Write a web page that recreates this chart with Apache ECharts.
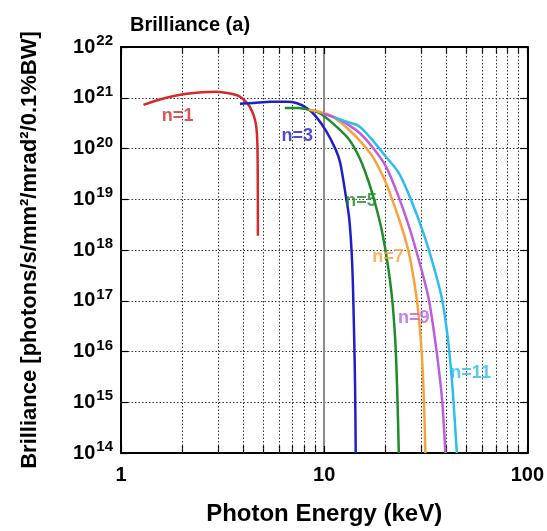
<!DOCTYPE html>
<html>
<head>
<meta charset="utf-8">
<script src="https://cdn.jsdelivr.net/npm/echarts@6/dist/echarts.min.js"></script>
<style>html,body{margin:0;padding:0;background:#fff}#c{width:547px;height:531px}</style>
</head>
<body>
<div id="c"></div>
<script>
// Photon energy (keV) and brilliance for each harmonic
var n1X = [1.29,1.6,2.02,2.5,2.94,3.4,3.83,4.1,4.29,4.5,4.63,4.69,4.71,4.72];
var n1Y = [7.24e20,9.55e20,1.17e21,1.29e21,1.32e21,1.23e21,1.07e21,8.5e20,6.8e20,4.5e20,2.75e20,1.26e20,3.2e19,1.9e18];
var n3X = [3.85,4.5,5.5,6.5,7.3,8.2,9.1,10.2,11.4,12.0,12.8,13.3,13.75,14.03,14.2,14.3];
var n3Y = [7.6e20,7.9e20,8.3e20,8.3e20,7.9e20,6.3e20,4.3e20,2.24e20,9.5e19,5.2e19,1.12e19,4.0e18,5.0e17,2.5e16,2.0e15,1.0e14];
var n5X = [6.4,7.5,8.5,9.45,11,13.26,15,16.6,18,19.3,20.5,21.6,22.4,22.9,23.3];
var n5Y = [6.3e20,6.3e20,5.75e20,5.0e20,3.16e20,1.51e20,6.3e19,2.14e19,7.1e18,2.24e18,5.6e17,1.1e17,1.58e16,1.58e15,1.0e14];
var n7X = [8.4,9.45,10.98,13,15,17.25,20,22.5,24.5,26.1,27.8,29.2,30.3,31.0,31.5];
var n7Y = [5.8e20,5.3e20,4.3e20,2.5e20,1.41e20,7.1e19,2.24e19,6.3e18,2.24e18,8.9e17,2.24e17,5.1e16,7.9e15,1.0e15,1.0e14];
var n9X = [9.8,11.4,12.77,15,17.5,20.1,23,26.1,29.5,32.7,35.5,38.0,39.5];
var n9Y = [4.9e20,4.0e20,3.16e20,2.0e20,1.0e20,4.5e19,1.26e19,3.0e18,5.6e17,1.1e17,1.26e16,1.2e15,1.0e14];
var n11X = [11.2,12.8,14.85,17,20,23.3,27,31.5,35,38,40.5,42.6,44,45];
var n11Y = [4.1e20,3.4e20,2.75e20,1.58e20,7.1e19,3.3e19,8.9e18,1.66e18,4.0e17,1.1e17,2.0e16,2.57e15,4.0e14,1.0e14];

var seriesNames = ['n=1','n=3','n=5','n=7','n=9','n=11'];
var seriesColors = ['#d42a2a','#1f1fc8','#1f8c2a','#f7a23a','#bd5cdc','#2cbcef'];

var labelX = [1.90,7.37,15.2,20.6,27.6,52.6];
var labelY = [4.3e20,1.78e20,9.1e18,7.2e17,4.5e16,3.7e15];

var minorX = [2,3,4,5,6,7,8,9,20,30,40,50,60,70,80,90];
var allX = [1,2,3,4,5,6,7,8,9,10,20,30,40,50,60,70,80,90,100];

var xTitle = 'Photon Energy (keV)';
var yTitle = 'Brilliance [photons/s/mm\u00b2/mrad\u00b2/0.1%BW]';
var chartTitle = 'Brilliance (a)';

function pairs(xs, ys){ return xs.map(function(x,i){return [x, ys[i]];}); }

var xs = [n1X,n3X,n5X,n7X,n9X,n11X];
var ys = [n1Y,n3Y,n5Y,n7Y,n9Y,n11Y];

var FONT = 'Liberation Sans, Arial, sans-serif';
var series = [];
// minor vertical grid lines
series.push({
  type:'line', xAxisIndex:0, yAxisIndex:0, data:[[1,1e14]], symbol:'none',
  lineStyle:{opacity:0}, silent:true, z:1,
  markLine:{silent:true, symbol:['none','none'], label:{show:false},
    lineStyle:{type:[1.5,2], color:'#333', width:1},
    animation:false,
    data: minorX.map(function(v){return {xAxis:v};})}
});
for (var i=0;i<6;i++){
  series.push({
    name: seriesNames[i], type:'line', xAxisIndex:0, yAxisIndex:0,
    data: pairs(xs[i], ys[i]), symbol:'none', smooth:0.3,
    lineStyle:{color:seriesColors[i], width:2.5}, itemStyle:{color:seriesColors[i]}, z:5+i
  });
}
series.push({
  type:'scatter', xAxisIndex:0, yAxisIndex:0, symbolSize:0, z:20,
  data: labelX.map(function(x,i){return {value:[x,labelY[i]], label:{color:seriesColors[i], formatter:seriesNames[i]}};}),
  label:{show:true, position:'inside', fontFamily:FONT, fontWeight:'bold', fontSize:18}
});

var chart = echarts.init(document.getElementById('c'), null, {renderer:'canvas'});
chart.setOption({
  animation:false,
  backgroundColor:'#fff',
  title:{text:chartTitle, left:125, top:10, textStyle:{fontFamily:FONT, fontWeight:'bold', fontSize:20, color:'#000'}},
  grid:{left:121, top:47, right:18, bottom:76, containLabel:false},
  xAxis:[
    {type:'log', logBase:10, min:1, max:100, position:'bottom',
     axisLine:{show:true, onZero:false, lineStyle:{color:'#000', width:2}},
     axisTick:{show:true, inside:true, length:7, customValues:allX, lineStyle:{color:'#000', width:1.2}},
     axisLabel:{fontFamily:FONT, fontWeight:'bold', fontSize:20, color:'#000', margin:12},
     splitLine:{show:false},
     name:xTitle, nameLocation:'middle', nameGap:49,
     nameTextStyle:{fontFamily:FONT, fontWeight:'bold', fontSize:24, color:'#000'}},
    {type:'log', logBase:10, min:1, max:100, position:'top',
     axisLine:{show:true, onZero:false, lineStyle:{color:'#000', width:2}},
     axisTick:{show:true, inside:true, length:7, customValues:allX, lineStyle:{color:'#000', width:1.2}},
     axisLabel:{show:false}, splitLine:{show:false}},
    {type:'log', logBase:10, min:1, max:100, position:'bottom',
     axisLine:{show:false}, axisTick:{show:false}, axisLabel:{show:false},
     splitLine:{show:true, lineStyle:{color:'#8a8a8a', width:2}}}
  ],
  yAxis:[
    {type:'log', logBase:10, min:1e14, max:1e22, interval:1, position:'left',
     axisLine:{show:true, onZero:false, lineStyle:{color:'#000', width:2}},
     axisTick:{show:true, inside:true, length:7, lineStyle:{color:'#000', width:1.2}},
     axisLabel:{margin:8, formatter:function(v){return '{b|10}{s|'+Math.round(Math.log10(v))+'}';},
       rich:{b:{fontFamily:FONT, fontWeight:'bold', fontSize:20, color:'#000'},
             s:{fontFamily:FONT, fontWeight:'bold', fontSize:15, color:'#000', padding:[0,0,12,1]}}},
     splitLine:{show:true, lineStyle:{color:'#333', width:1.2, type:[1.5,2]}},
     name:yTitle, nameLocation:'middle', nameGap:80,
     nameTextStyle:{fontFamily:FONT, fontWeight:'bold', fontSize:22, color:'#000'}},
    {type:'log', logBase:10, min:1e14, max:1e22, interval:1, position:'right',
     axisLine:{show:true, onZero:false, lineStyle:{color:'#000', width:2}},
     axisTick:{show:true, inside:true, length:7, lineStyle:{color:'#000', width:1.2}},
     axisLabel:{show:false}, splitLine:{show:false}}
  ],
  series: series
});
</script>
</body>
</html>
